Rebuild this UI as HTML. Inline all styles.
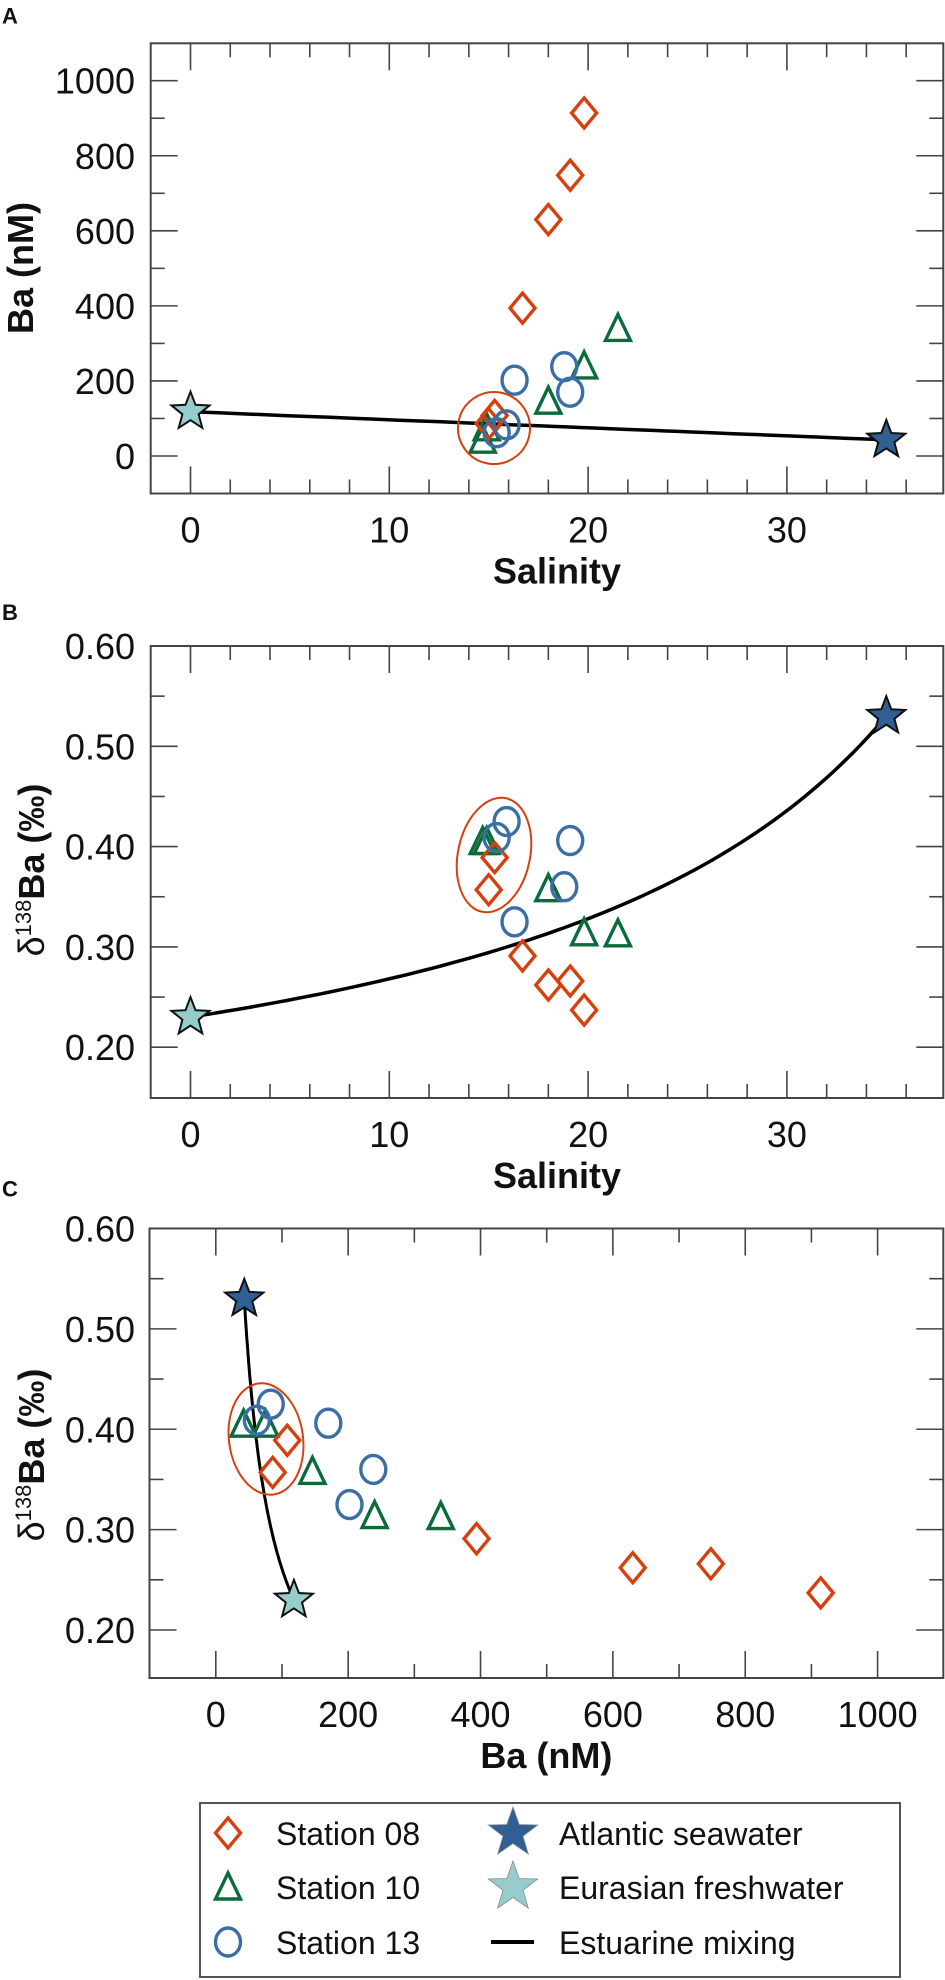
<!DOCTYPE html>
<html><head><meta charset="utf-8"><style>
html,body{margin:0;padding:0;background:#fff;}
svg{display:block;font-family:"Liberation Sans",Arial,sans-serif;}
</style></head><body>
<svg id="fig" width="945" height="1980" viewBox="0 0 945 1980" xmlns="http://www.w3.org/2000/svg"></svg>
<script>
// ---- data ----
const st08Sal = [19.8, 19.1, 18.0, 16.7, 15.3, 15.0];
const st08Ba  = [914, 748, 630, 394, 108, 86];
const st08D   = [0.237, 0.266, 0.262, 0.291, 0.389, 0.357];
const st10Sal = [21.5, 19.8, 18.0, 14.9, 14.7];
const st10Ba  = [340, 240, 146, 75, 42];
const st10D   = [0.313, 0.314, 0.358, 0.405, 0.405];
const st13Sal = [16.3, 18.8, 19.1, 15.9, 15.4];
const st13Ba  = [202, 238, 170, 83, 62];
const st13D   = [0.325, 0.360, 0.406, 0.425, 0.409];
const endSal = [35, 0];        // Atlantic seawater, Eurasian freshwater
const endBa  = [43, 118];
const endD   = [0.53, 0.23];
const salTicks = [0, 10, 20, 30];
const baTicksA = [0, 200, 400, 600, 800, 1000];
const dTicks = [0.20, 0.30, 0.40, 0.50, 0.60];
const baTicksC = [0, 200, 400, 600, 800, 1000];

const NS = "http://www.w3.org/2000/svg";
const svg = document.getElementById('fig');
const C8 = '#d6400f', C10 = '#0b6b3a', C13 = '#3a6ea5', CSEA = '#2f5f93', CFW = '#97cccc';

function mk(tag, attrs, parent) {
  const e = document.createElementNS(NS, tag);
  for (const k in attrs) e.setAttribute(k, attrs[k]);
  (parent || svg).appendChild(e);
  return e;
}
function lin(v0, p0, v1, p1) { return v => p0 + (v - v0) * (p1 - p0) / (v1 - v0); }
function starPath(cx, cy, R, r) {
  let d = '';
  for (let i = 0; i < 10; i++) {
    const a = -Math.PI / 2 + i * Math.PI / 5, rr = i % 2 ? r : R;
    d += (i ? 'L' : 'M') + (cx + rr * Math.cos(a)).toFixed(1) + ' ' + (cy + rr * Math.sin(a)).toFixed(1);
  }
  return d + 'Z';
}
function diamond(g, x, y, s) {
  const e = mk('path', {d: `M${x} ${y-15}L${x+12.5} ${y}L${x} ${y+15}L${x-12.5} ${y}Z`, fill: 'none', stroke: C8, 'stroke-width': 3.4}, g);
  
  
}
function triangle(g, x, y, s) {
  const e = mk('path', {d: `M${x} ${y-14}L${x+12.5} ${y+12}L${x-12.5} ${y+12}Z`, fill: 'none', stroke: C10, 'stroke-width': 3.4}, g);
  
  
}
function circle(g, x, y, s) {
  const e = mk('ellipse', {cx: x, cy: y, rx: 12.5, ry: 14, fill: 'none', stroke: C13, 'stroke-width': 3.4}, g);
  
  
}
function star(g, x, y, col, name, strk) {
  const e = mk('path', {d: starPath(x, y, 20, 8.5), fill: col, stroke: strk || '#111', 'stroke-width': 2, 'stroke-linejoin': 'miter'}, g);
  
  
}
function text(g, x, y, s, attrs, name) {
  const t = mk('text', Object.assign({x: x, y: y, 'font-size': 36, fill: '#111'}, attrs || {}), g);
  t.textContent = s;
  
  
  return t;
}

function panel(o) {
  const g = mk('g', {});
  
  
  const {L, T, R, B, xs, ys} = o;
  const tk = mk('g', {stroke: '#444', 'stroke-width': 1.6}, g);
  
  
  for (let v = o.xMinorStart; v <= o.xMinorEnd + 1e-9; v += o.xMinor) {
    const x = xs(v); if (x <= L + 1 || x >= R - 1) continue;
    const major = Math.abs(v / o.xMajor - Math.round(v / o.xMajor)) < 1e-6;
    const len = major ? 27 : 14;
    mk('line', {x1: x, y1: T, x2: x, y2: T + len}, tk);
    mk('line', {x1: x, y1: B, x2: x, y2: B - len}, tk);
  }
  for (let v = o.yMinorStart; v <= o.yMinorEnd + 1e-9; v += o.yMinor) {
    const y = ys(v); if (y <= T + 1 || y >= B - 1) continue;
    const major = Math.abs(v / o.yMajor - Math.round(v / o.yMajor)) < 1e-6;
    const len = major ? 27 : 14;
    mk('line', {x1: L, y1: y, x2: L + len, y2: y}, tk);
    mk('line', {x1: R, y1: y, x2: R - len, y2: y}, tk);
  }
  const fr = mk('rect', {x: L, y: T, width: R - L, height: B - T, fill: 'none', stroke: '#444', 'stroke-width': 2}, g);
  
  
  o.xTicks.forEach(v => text(g, xs(v), B + 49, o.xFmt(v), {'text-anchor': 'middle'}, 'x-tick-label'));
  o.yTicks.forEach(v => text(g, 135, ys(v) + 13, o.yFmt(v), {'text-anchor': 'end'}, 'y-tick-label'));
  text(g, (L + R) / 2 + (o.xTitleDx || 0), B + 90, o.xTitle, {'text-anchor': 'middle', 'font-weight': 'bold'}, 'x-axis-title');
  text(g, 2, T - o.labelUp, o.label, {'font-size': 22, 'font-weight': 'bold'}, 'panel-label');
  return g;
}

// ---------- Panel A ----------
(function(){
  const xs = lin(0, 190.5, 10, 389.3), ys = lin(0, 456, 1000, 80.7);
  const g = panel({name: 'panel-a', L: 150.7, T: 43.3, R: 943.3, B: 493.5, xs, ys,
    xMinorStart: -2, xMinorEnd: 38, xMinor: 2, xMajor: 10, yMinorStart: -100, yMinorEnd: 1100, yMinor: 100, yMajor: 200,
    xTicks: salTicks, yTicks: baTicksA, xFmt: v => String(v), yFmt: v => String(v),
    xTitle: 'Salinity', xTitleDx: 10, label: 'A', labelUp: 20});
  text(g, 0, 0, 'Ba (nM)', {'text-anchor': 'middle', 'font-weight': 'bold', transform: 'translate(33,268) rotate(-90)'}, 'y-axis-title');
  let d = '';
  for (let i = 0; i <= 50; i++) {
    const f = i / 50, s = endSal[1] + f * (endSal[0] - endSal[1]), b = endBa[1] + f * (endBa[0] - endBa[1]);
    d += (i ? 'L' : 'M') + xs(s).toFixed(1) + ' ' + ys(b).toFixed(1);
  }
  const ln = mk('path', {d, fill: 'none', stroke: '#000', 'stroke-width': 3.5}, g);
  
  
  st10Sal.forEach((s, i) => triangle(g, xs(s), ys(st10Ba[i])));
  st08Sal.forEach((s, i) => diamond(g, xs(s), ys(st08Ba[i])));
  st13Sal.forEach((s, i) => circle(g, xs(s), ys(st13Ba[i])));
  const el = mk('ellipse', {cx: 494, cy: 428, rx: 36, ry: 36, fill: 'none', stroke: C8, 'stroke-width': 2, transform: 'rotate(10 494 428)'}, g);
  
  
  star(g, xs(endSal[1]), ys(endBa[1]), CFW, 'eurasian-freshwater-star');
  star(g, xs(endSal[0]), ys(endBa[0]), CSEA, 'atlantic-seawater-star');
})();

function dTitle(g, cx, cy) {
  const t = mk('text', {'text-anchor': 'middle', 'font-size': 36, fill: '#111', transform: `translate(${cx},${cy}) rotate(-90)`}, g);
  
  
  const a = mk('tspan', {}, t); a.textContent = 'δ';
  const b = mk('tspan', {'font-size': 22, dy: -13}, t); b.textContent = '138';
  const c = mk('tspan', {'font-weight': 'bold', dy: 13}, t); c.textContent = 'Ba (‰)';
}

// ---------- Panel B ----------
(function(){
  const xs = lin(0, 190.5, 10, 389.3), ys = lin(0.2, 1047.2, 0.6, 646);
  const g = panel({name: 'panel-b', L: 150.7, T: 646, R: 943.3, B: 1098, xs, ys,
    xMinorStart: -2, xMinorEnd: 38, xMinor: 2, xMajor: 10, yMinorStart: 0.15, yMinorEnd: 0.6, yMinor: 0.05, yMajor: 0.1,
    xTicks: salTicks, yTicks: dTicks, xFmt: v => String(v), yFmt: v => v.toFixed(2),
    xTitle: 'Salinity', xTitleDx: 10, label: 'B', labelUp: 26});
  dTitle(g, 44, 870);
  let d = '';
  for (let i = 0; i <= 80; i++) {
    const f = i / 80, s = endSal[1] + f * (endSal[0] - endSal[1]);
    const bf = endBa[1] * (1 - f), bs = endBa[0] * f;
    const dv = (bf * endD[1] + bs * endD[0]) / (bf + bs);
    d += (i ? 'L' : 'M') + xs(s).toFixed(1) + ' ' + ys(dv).toFixed(1);
  }
  const ln = mk('path', {d, fill: 'none', stroke: '#000', 'stroke-width': 3.5}, g);
  
  
  st10Sal.forEach((s, i) => triangle(g, xs(s), ys(st10D[i])));
  st08Sal.forEach((s, i) => diamond(g, xs(s), ys(st08D[i])));
  st13Sal.forEach((s, i) => circle(g, xs(s), ys(st13D[i])));
  const el = mk('ellipse', {cx: 494, cy: 855, rx: 36, ry: 58, fill: 'none', stroke: C8, 'stroke-width': 2, transform: 'rotate(12 494 855)'}, g);
  
  
  star(g, xs(endSal[1]), ys(endD[1]), CFW, 'eurasian-freshwater-star');
  star(g, xs(endSal[0]), ys(endD[0]), CSEA, 'atlantic-seawater-star');
})();

// ---------- Panel C ----------
(function(){
  const xs = lin(0, 215.8, 1000, 877.6), ys = lin(0.2, 1630, 0.6, 1228.5);
  const g = panel({name: 'panel-c', L: 149.5, T: 1228.5, R: 943.3, B: 1678, xs, ys,
    xMinorStart: -100, xMinorEnd: 1100, xMinor: 100, xMajor: 200, yMinorStart: 0.15, yMinorEnd: 0.6, yMinor: 0.05, yMajor: 0.1,
    xTicks: baTicksC, yTicks: dTicks, xFmt: v => String(v), yFmt: v => v.toFixed(2),
    xTitle: 'Ba (nM)', xTitleDx: 0, label: 'C', labelUp: 32});
  dTitle(g, 44, 1455);
  let d = '';
  for (let i = 0; i <= 80; i++) {
    const f = i / 80;
    const bf = endBa[1] * (1 - f), bs = endBa[0] * f;
    const dv = (bf * endD[1] + bs * endD[0]) / (bf + bs);
    d += (i ? 'L' : 'M') + xs(bf + bs).toFixed(1) + ' ' + ys(dv).toFixed(1);
  }
  const ln = mk('path', {d, fill: 'none', stroke: '#000', 'stroke-width': 3}, g);
  
  
  st10Ba.forEach((b, i) => triangle(g, xs(b), ys(st10D[i])));
  st08Ba.forEach((b, i) => diamond(g, xs(b), ys(st08D[i])));
  st13Ba.forEach((b, i) => circle(g, xs(b), ys(st13D[i])));
  const el = mk('ellipse', {cx: 266, cy: 1439, rx: 37, ry: 56, fill: 'none', stroke: C8, 'stroke-width': 2, transform: 'rotate(-8 266 1439)'}, g);
  
  
  star(g, xs(endBa[1]), ys(endD[1]), CFW, 'eurasian-freshwater-star');
  star(g, xs(endBa[0]), ys(endD[0]), CSEA, 'atlantic-seawater-star');
})();

// ---------- Legend ----------
(function(){
  const g = mk('g', {});
  
  
  const r = mk('rect', {x: 200, y: 1803, width: 700, height: 174, fill: '#fff', stroke: '#555', 'stroke-width': 2}, g);
  
  
  const rows = [1833, 1887, 1942];
  diamond(g, 228, rows[0], 'legend-station-08-marker');
  triangle(g, 228, rows[1], 'legend-station-10-marker');
  circle(g, 228, rows[2], 'legend-station-13-marker');
  text(g, 276, rows[0] + 12, 'Station 08', {'font-size': 32}, 'legend-entry-station-08');
  text(g, 276, rows[1] + 12, 'Station 10', {'font-size': 32}, 'legend-entry-station-10');
  text(g, 276, rows[2] + 12, 'Station 13', {'font-size': 32}, 'legend-entry-station-13');
  const s1 = mk('path', {d: starPath(513, rows[0], 26, 10.5), fill: CSEA, stroke: '#888', 'stroke-width': 0.8}, g);
  
  
  const s2 = mk('path', {d: starPath(513, rows[1], 26, 10.5), fill: CFW, stroke: '#888', 'stroke-width': 0.8}, g);
  
  
  const l = mk('line', {x1: 491, y1: rows[2], x2: 534, y2: rows[2], stroke: '#000', 'stroke-width': 4}, g);
  
  
  text(g, 559, rows[0] + 12, 'Atlantic seawater', {'font-size': 32}, 'legend-entry-atlantic-seawater');
  text(g, 559, rows[1] + 12, 'Eurasian freshwater', {'font-size': 32}, 'legend-entry-eurasian-freshwater');
  text(g, 559, rows[2] + 12, 'Estuarine mixing', {'font-size': 32}, 'legend-entry-estuarine-mixing');
})();
</script>
</body></html>
